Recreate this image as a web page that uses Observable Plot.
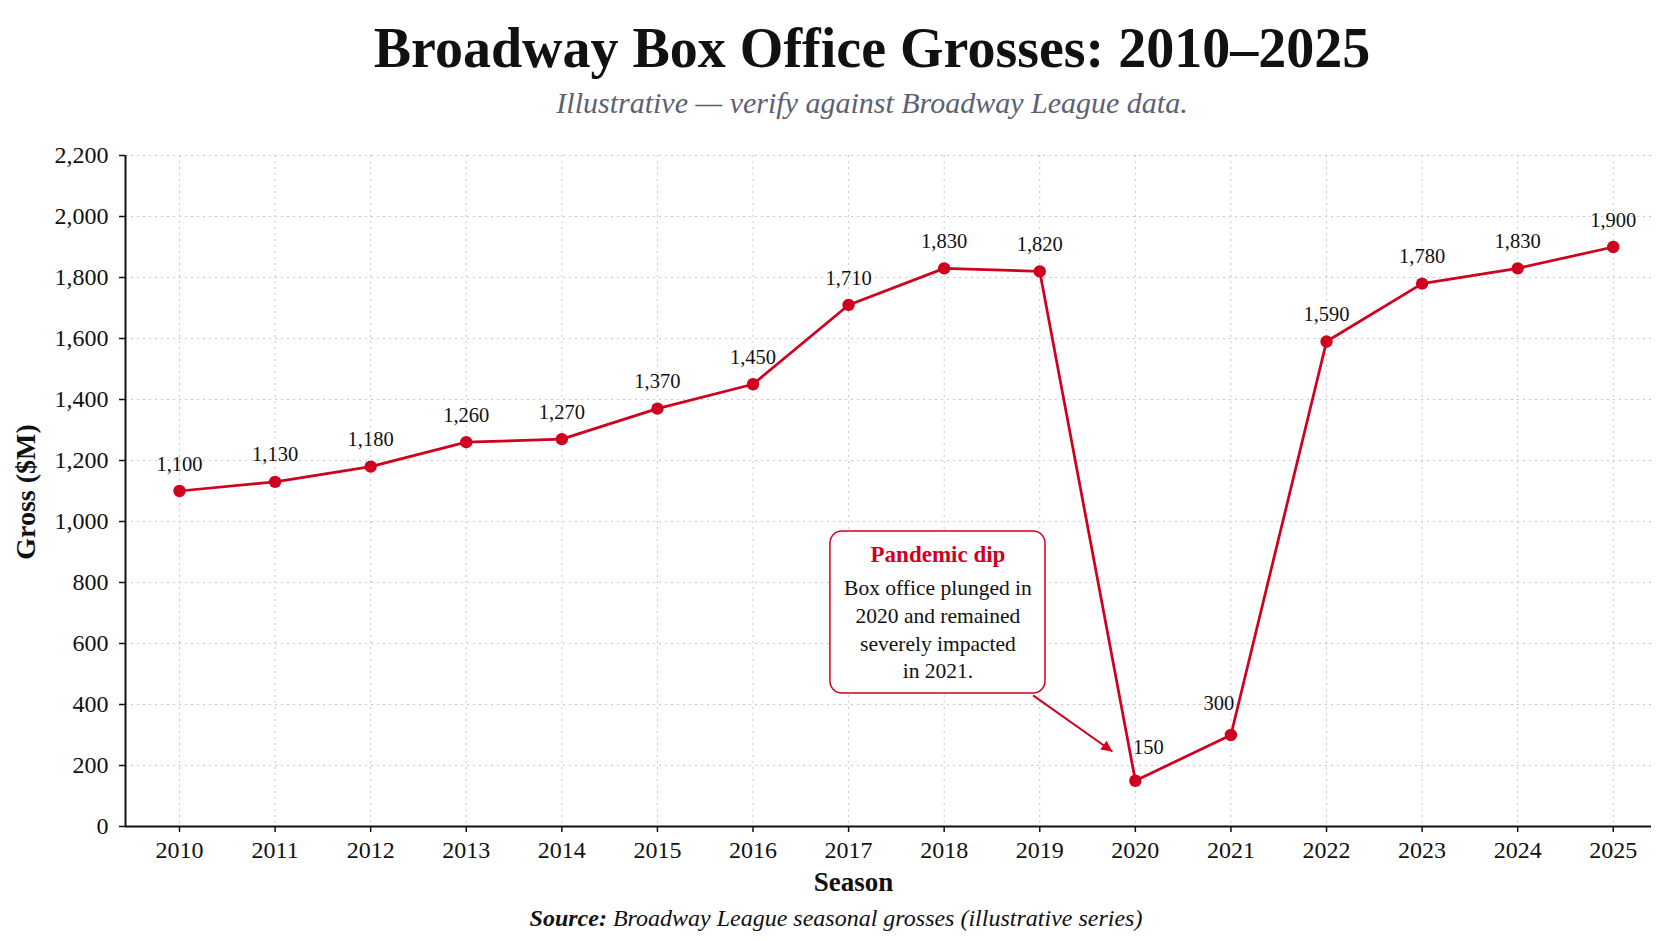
<!DOCTYPE html>
<html>
<head>
<meta charset="utf-8">
<script src="https://cdn.jsdelivr.net/npm/d3@7"></script>
<script src="https://cdn.jsdelivr.net/npm/@observablehq/plot@0.6"></script>
<style>
  html, body { margin: 0; padding: 0; background: #ffffff; }
  body { width: 1672px; height: 941px; position: relative; overflow: hidden; font-family: "Liberation Serif", "Times New Roman", serif; }
  .title { position: absolute; top: 20px; left: 872px; transform: translateX(-50%); white-space: nowrap;
           font-size: 56px; line-height: 56px; font-weight: bold; color: #111; }
  .subtitle { position: absolute; top: 88px; left: 872px; transform: translateX(-50%); white-space: nowrap;
              font-size: 30px; line-height: 30px; font-style: italic; color: #5b6172; }
  #chart { position: absolute; top: 130px; left: 0; }
  .source { position: absolute; top: 906px; left: 836px; transform: translateX(-50%); white-space: nowrap;
            font-size: 24px; line-height: 24px; font-style: italic; color: #111; }
</style>
</head>
<body>
<div class="title">Broadway Box Office Grosses: 2010–2025</div>
<div class="subtitle">Illustrative — verify against Broadway League data.</div>
<div id="chart"></div>
<div class="source"><b>Source:</b> Broadway League seasonal grosses (illustrative series)</div>
<script>
// Season grosses, $ millions
const seasons = [2010, 2011, 2012, 2013, 2014, 2015, 2016, 2017, 2018, 2019, 2020, 2021, 2022, 2023, 2024, 2025];
const grosses = [1100, 1130, 1180, 1260, 1270, 1370, 1450, 1710, 1830, 1820, 150, 300, 1590, 1780, 1830, 1900];
const yTicks = [0, 200, 400, 600, 800, 1000, 1200, 1400, 1600, 1800, 2000, 2200];

const rows = seasons.map((season, i) => ({season, gross: grosses[i]}));
const red = "#d0001f";
const xDomain = [2009.435, 2025.4];
const yDomain = [0, 2200];
const fmt = d3.format(",");

// callout box and its pointer, in data units
const note = {x1: 2016.81, x2: 2019.06, y1: 436, y2: 967};
const noteTitle = [{x: (note.x1 + note.x2) / 2, y: 892, text: "Pandemic dip"}];
const noteBody = [{x: (note.x1 + note.x2) / 2, y: 652, text: "Box office plunged in\n2020 and remained\nseverely impacted\nin 2021."}];
const notePointer = [{x1: 2018.93, y1: 430, x2: 2019.76, y2: 246}];

const regular = rows.filter(d => d.season !== 2020 && d.season !== 2021);

const chart = Plot.plot({
  width: 1672,
  height: 770,
  marginLeft: 125,
  marginRight: 21,
  marginTop: 25,
  marginBottom: 74,
  style: {fontFamily: "Liberation Serif, Times New Roman, serif", color: "#111", background: "transparent"},
  x: {domain: xDomain},
  y: {domain: yDomain},
  marks: [
    Plot.gridX(seasons, {stroke: "#c8c8c8", strokeOpacity: 1, strokeDasharray: "2,4", strokeWidth: 1}),
    Plot.gridY(yTicks.slice(1), {stroke: "#c8c8c8", strokeOpacity: 1, strokeDasharray: "2,4", strokeWidth: 1}),
    Plot.axisX(seasons, {tickSize: 6, tickPadding: 8, tickFormat: d => String(d), fontSize: 24, strokeWidth: 1.5, label: null}),
    Plot.axisY(yTicks, {tickSize: 6, tickPadding: 11, tickFormat: fmt, fontSize: 24, strokeWidth: 1.5, label: null}),
    Plot.ruleY([yDomain[0]], {stroke: "#111", strokeWidth: 2}),
    Plot.ruleX([xDomain[0]], {stroke: "#111", strokeWidth: 2}),
    Plot.text(["Season"], {frameAnchor: "bottom", dy: 56, dx: -35, fontSize: 27, fontWeight: "bold", textAnchor: "middle", lineAnchor: "middle"}),
    Plot.text(["Gross ($M)"], {frameAnchor: "left", dx: -99, dy: 1, rotate: -90, fontSize: 28, fontWeight: "bold", textAnchor: "middle", lineAnchor: "middle"}),
    Plot.line(rows, {x: "season", y: "gross", stroke: red, strokeWidth: 2.75}),
    Plot.dot(rows, {x: "season", y: "gross", r: 6.2, fill: red}),
    Plot.text(regular, {x: "season", y: "gross", text: d => fmt(d.gross), dy: -27, fontSize: 20.5, lineAnchor: "middle", fill: "#111"}),
    Plot.text(rows.filter(d => d.season === 2020), {x: "season", y: "gross", text: d => fmt(d.gross), dx: 13, dy: -33, fontSize: 20.5, lineAnchor: "middle", fill: "#111"}),
    Plot.text(rows.filter(d => d.season === 2021), {x: "season", y: "gross", text: d => fmt(d.gross), dx: -12, dy: -32, fontSize: 20.5, lineAnchor: "middle", fill: "#111"}),
    Plot.rect([note], {x1: "x1", x2: "x2", y1: "y1", y2: "y2", fill: "white", stroke: red, strokeWidth: 1.5, rx: 12}),
    Plot.text(noteTitle, {x: "x", y: "y", text: "text", fill: red, fontWeight: "bold", fontSize: 23, lineAnchor: "middle"}),
    Plot.text(noteBody, {x: "x", y: "y", text: "text", fill: "#111", fontSize: 21.5, lineHeight: 1.3, lineAnchor: "middle"}),
    Plot.link(notePointer, {x1: "x1", y1: "y1", x2: "x2", y2: "y2", stroke: red, strokeWidth: 2})
  ]
});

// filled arrowhead on the callout pointer
const svg = d3.select(chart);
svg.append("defs").append("marker")
  .attr("id", "note-head")
  .attr("viewBox", "0 0 10 10")
  .attr("refX", 10).attr("refY", 5)
  .attr("markerUnits", "userSpaceOnUse")
  .attr("markerWidth", 15).attr("markerHeight", 11)
  .attr("orient", "auto")
  .append("path").attr("d", "M0,0L10,5L0,10Z").attr("fill", red);
svg.selectAll('g[aria-label="link"] path').attr("marker-end", "url(#note-head)");

document.getElementById("chart").appendChild(chart);
</script>
</body>
</html>
